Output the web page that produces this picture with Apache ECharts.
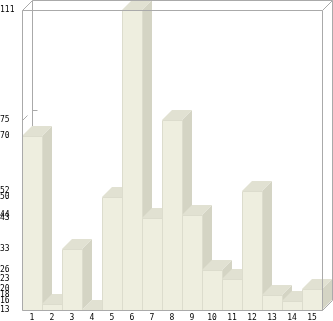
<!DOCTYPE html>
<html><head><meta charset="utf-8">
<script src="https://cdn.jsdelivr.net/npm/echarts@6/dist/echarts.min.js"></script>
<style>html,body{margin:0;padding:0;background:#fff}#c{width:333px;height:321px}</style>
</head><body><div id="c"></div><script>
const categories = ['1','2','3','4','5','6','7','8','9','10','11','12','13','14','15'];
const values = [70,15,33,13,50,111,43,75,44,26,23,52,18,16,20];
const yTickLabels = [111,75,70,52,50,44,43,33,26,23,20,18,16,15,13];
const yMin = 13, yMax = 111;
const guideValue = 75;

const DEPTH = 10;
const FRONT = '#EEEEDF', SIDE = '#D4D4C4', TOP = '#E1E1D2', EDGE = '#DCDCCD', FRAME = '#AAAAAA';
const FONT = { fontFamily: 'DejaVu Sans Mono', fontSize: 8, color: '#000' };

function renderBar(params, api) {
  const idx = api.value(0), v = api.value(1);
  const top = api.coord([idx, v]);
  const base = api.coord([idx, yMin]);
  const w = api.size([1, 0])[0];
  const x0 = Math.round(top[0] - w / 2), x1 = Math.round(top[0] + w / 2);
  const yt = Math.round(top[1]), yb = Math.round(base[1]);
  const d = DEPTH;
  return { type: 'group', children: [
    { type: 'polygon', shape: { points: [[x1, yt], [x1 + d, yt - d], [x1 + d, yb - d], [x1, yb]] }, style: { fill: SIDE } },
    { type: 'polygon', shape: { points: [[x0, yt], [x1, yt], [x1 + d, yt - d], [x0 + d, yt - d]] }, style: { fill: TOP } },
    { type: 'rect', shape: { x: x0 + 0.5, y: yt + 0.5, width: x1 - x0, height: yb - yt }, style: { fill: FRONT, stroke: EDGE, lineWidth: 1 } }
  ]};
}

function line(x1, y1, x2, y2) {
  return { type: 'line', shape: { x1: x1, y1: y1, x2: x2, y2: y2 }, style: { stroke: FRAME, lineWidth: 1 } };
}

function renderBack(params, api) {
  const cs = params.coordSys, d = DEPTH;
  const L = Math.round(cs.x) + 0.5, T = Math.round(cs.y) + 0.5;
  const R = Math.round(cs.x + cs.width) + 0.5, B = Math.round(cs.y + cs.height) + 0.5;
  const yg = Math.round(api.coord([0, guideValue])[1]) + 0.5;
  return { type: 'group', children: [
    line(L + d, T - d, L + d, B - d),
    line(R + d, T - d, R + d, B - d),
    line(L, yg, L + 5, yg - 5),
    line(L + d, yg - d, L + d + 5, yg - d)
  ]};
}

function renderFront(params, api) {
  const cs = params.coordSys, d = DEPTH;
  const L = Math.round(cs.x) + 0.5, T = Math.round(cs.y) + 0.5;
  const R = Math.round(cs.x + cs.width) + 0.5, B = Math.round(cs.y + cs.height) + 0.5;
  return { type: 'group', children: [
    line(L, T, L, B), line(L, T, R, T), line(R, T, R, B), line(L, B, R, B),
    line(L + d, T - d, R + d, T - d),
    line(L, T, L + d, T - d), line(R, T, R + d, T - d), line(R, B, R + d, B - d)
  ]};
}

const chart = echarts.init(document.getElementById('c'), null, { renderer: 'canvas' });
chart.setOption({
  animation: false,
  backgroundColor: '#fff',
  grid: { left: 22, right: 11, top: 10, bottom: 11, containLabel: false, outerBoundsMode: 'none' },
  xAxis: {
    type: 'category', data: categories,
    axisLine: { show: false }, axisTick: { show: false }, splitLine: { show: false },
    axisLabel: Object.assign({ margin: 4, interval: 0 }, FONT)
  },
  yAxis: {
    type: 'value', min: yMin, max: yMax,
    axisLine: { show: false }, axisTick: { show: false }, splitLine: { show: false },
    axisLabel: Object.assign({ margin: 22, align: 'left', customValues: yTickLabels, showMinLabel: true, showMaxLabel: true }, FONT)
  },
  series: [
    { type: 'custom', z: 1, renderItem: renderBack, data: [[0, yMin]], silent: true },
    { type: 'custom', z: 2, renderItem: renderBar, data: values.map((v, i) => [i, v]) },
    { type: 'custom', z: 3, renderItem: renderFront, data: [[0, yMin]], silent: true }
  ]
});
</script></body></html>
